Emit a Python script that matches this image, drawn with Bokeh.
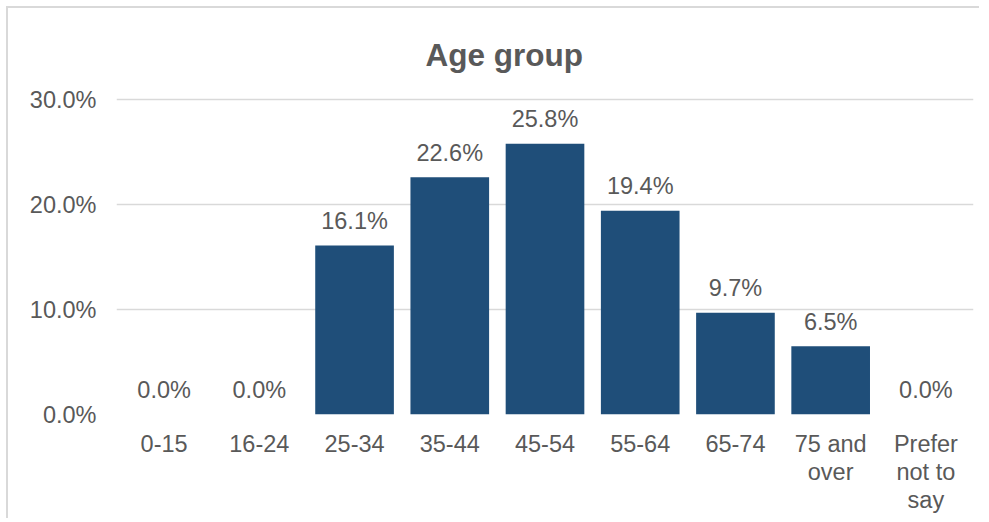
from bokeh.plotting import figure
from bokeh.models import (Range1d, FixedTicker, PrintfTickFormatter,
                          ColumnDataSource, LabelSet, LinearAxis)
from bokeh.core.properties import value
from bokeh.embed import file_html
from bokeh.resources import INLINE

categories = ["0-15", "16-24", "25-34", "35-44", "45-54", "55-64", "65-74",
              "75 and over", "Prefer not to say"]
tick_line1 = ["0-15", "16-24", "25-34", "35-44", "45-54", "55-64", "65-74",
              "75 and", "Prefer"]
tick_line2 = ["", "", "", "", "", "", "", "over", "not to"]
tick_line3 = ["", "", "", "", "", "", "", "", "say"]
values = [0.0, 0.0, 16.1, 22.6, 25.8, 19.4, 9.7, 6.5, 0.0]
y_ticks = [0, 10, 20, 30]
title_text = "Age group"

FONT = "Liberation Sans"
TXT = "#595959"
BAR = "#1F4E79"
GRID = "#D9D9D9"

xi = list(range(len(categories)))
src = ColumnDataSource(dict(x=xi, cat=categories, val=values,
                            lab=["%.1f%%" % v for v in values]))

p = figure(width=973, height=512, x_range=Range1d(-0.5, len(categories) - 0.5),
           y_range=Range1d(0, 30.2), output_backend="svg", toolbar_location=None,
           min_border_left=108, min_border_right=8, min_border_bottom=106,
           min_border_top=89, x_axis_location=None, title=title_text)
p.outline_line_color = None
p.background_fill_color = "white"
p.border_fill_color = "white"
p.styles = {"border-left": "2px solid #D9D9D9", "border-top": "2px solid #D9D9D9",
            "margin-left": "6px", "margin-top": "6px"}

p.title.align = "left"
p.title.offset = 309
p.title.standoff = 50
p.title.text_font = FONT
p.title.text_font_size = "31.5px"
p.title.text_font_style = "bold"
p.title.text_color = TXT

p.vbar(x="x", top="val", width=0.826, source=src, color=BAR, line_color=None)

labels = LabelSet(x="x", y="val", text="lab", source=src, text_align="center",
                  text_baseline="alphabetic", y_offset=16.5, text_font=value(FONT),
                  text_font_size=value("23.5px"), text_color=value(TXT))
p.add_layout(labels)

p.yaxis.ticker = FixedTicker(ticks=y_ticks)
p.yaxis.formatter = PrintfTickFormatter(format="%.1f%%")
p.xgrid.grid_line_color = None
p.ygrid.grid_line_color = GRID
p.ygrid.grid_line_width = 1.5

xaxes = []
for lines, standoff in ((tick_line1, 16), (tick_line2, -1), (tick_line3, -1)):
    ax = LinearAxis(ticker=FixedTicker(ticks=xi), major_label_standoff=standoff)
    ax.major_label_overrides = {i: (t if t else " ") for i, t in zip(xi, lines)}
    p.add_layout(ax, "below")
    xaxes.append(ax)

for ax in xaxes + [p.yaxis[0]]:
    ax.axis_line_color = None
    ax.major_tick_line_color = None
    ax.minor_tick_line_color = None
    ax.major_tick_out = 0
    ax.major_tick_in = 0
    ax.minor_tick_out = 0
    ax.minor_tick_in = 0
    ax.major_label_text_font = FONT
    ax.major_label_text_font_size = "23.5px"
    ax.major_label_text_color = TXT

p.yaxis.major_label_standoff = 20

open("out.html", "w").write(file_html(p, INLINE))
